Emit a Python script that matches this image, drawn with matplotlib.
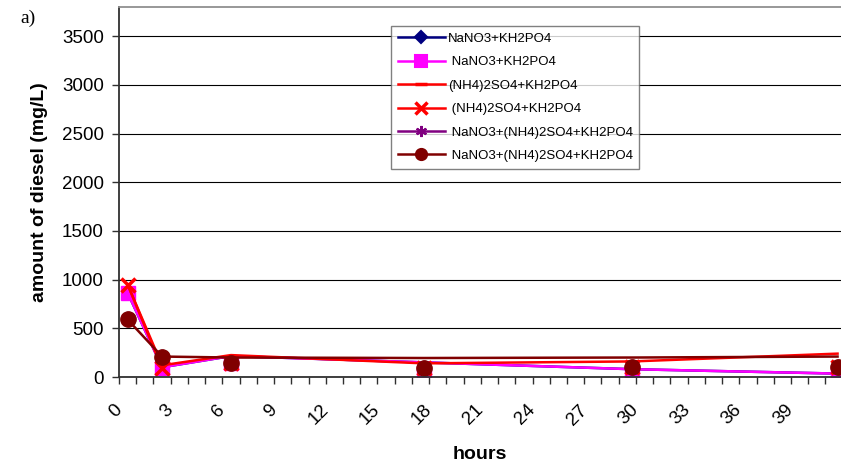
import matplotlib
matplotlib.use("Agg")
import matplotlib.pyplot as plt
from matplotlib.lines import Line2D

plt.rcParams["font.family"] = ["Liberation Sans", "DejaVu Sans"]

# sampling times (hours)
hours = [0.5, 2.5, 6.5, 17.7, 29.8, 41.7]

# NaNO3 + KH2PO4
nano3_line = [865, 100, 215, 150, 80, 35]
nano3_pts = [865, 95, 140, 40, 50, 20]
# (NH4)2SO4 + KH2PO4
nh4_line = [950, 120, 225, 140, 160, 240]
nh4_pts = [950, 90, 140, 90, 100, 100]
# NaNO3 + (NH4)2SO4 + KH2PO4
mix_line = [590, 210, 200, 195, 200, 210]
mix_pts = [600, 210, 140, 90, 100, 100]

labels = [
    "NaNO3+KH2PO4",
    " NaNO3+KH2PO4",
    "(NH4)2SO4+KH2PO4",
    " (NH4)2SO4+KH2PO4",
    " NaNO3+(NH4)2SO4+KH2PO4",
    " NaNO3+(NH4)2SO4+KH2PO4",
]
colors = ["#000080", "#FF00FF", "#FF0000", "#FF0000", "#800080", "#800000"]
markers = ["D", "s", "_", "x", (6, 2, 0), "o"]

fig = plt.figure(figsize=(8.41, 4.68), dpi=100)
ax = fig.add_axes([119 / 841, 1 - 377 / 468, 722 / 841, 370 / 468])

lw = 1.8
ax.plot(hours, nano3_line, color=colors[0], lw=lw, marker=markers[0], ms=6, markevery=[0, 1])
ax.plot(hours, nano3_line, color=colors[1], lw=lw)
ax.plot(hours, nano3_pts, color=colors[1], ls="none", marker="s", ms=10)
ax.plot(hours, nh4_line, color=colors[2], lw=lw)
ax.plot(hours, nh4_pts, color=colors[3], ls="none", marker="x", ms=10, mew=2.5)
ax.plot(hours[:2], nh4_pts[:2], color=colors[3], lw=lw)
ax.plot(hours, mix_pts, color=colors[4], ls="none", marker=markers[4], ms=11, mew=2)
ax.plot(hours, mix_line, color=colors[5], lw=lw)
ax.plot(hours, mix_pts, color=colors[5], ls="none", marker="o", ms=11)

ax.set_xlim(0, 41.9)
ax.set_ylim(0, 3800)
ax.set_yticks(range(0, 4000, 500))
ax.set_xticks(range(0, 42))
ax.set_xticklabels([str(h) if h % 3 == 0 else "" for h in range(0, 42)])
ax.grid(axis="y", color="black", lw=0.8)
ax.set_axisbelow(True)

for side in ["left", "bottom"]:
    ax.spines[side].set_color("#303030")
    ax.spines[side].set_linewidth(1.3)
ax.spines["top"].set_color("#909090")
ax.spines["top"].set_linewidth(1.3)
ax.spines["right"].set_visible(False)

ax.tick_params(axis="both", direction="out", length=5, width=1, color="#303030", labelsize=13.5)
ax.tick_params(axis="y", pad=6)
ax.tick_params(axis="x", pad=17)
for t in ax.get_xticklabels():
    t.set_rotation(45)
    t.set_rotation_mode("anchor")
    t.set_ha("right")
    t.set_va("center")

ax.set_ylabel("amount of diesel (mg/L)", fontsize=14, fontweight="bold", labelpad=10)
ax.set_xlabel("hours", fontsize=14, fontweight="bold", labelpad=13)

handles = []
for c, m, lab in zip(colors, markers, labels):
    ms = 6 if m == "D" else 8
    mew = 2.5 if m in ("x", "_") else 1.5
    handles.append(Line2D([], [], color=c, lw=lw, marker=m, ms=ms, mew=mew, label=lab))
fig.legend(handles=handles, loc="upper left", bbox_to_anchor=(391 / 841, 1 - 26 / 468),
           fontsize=9.5, handlelength=3.6, labelspacing=0.85, frameon=True, fancybox=False,
           edgecolor="#606060", borderpad=0.5, handletextpad=0.2, borderaxespad=0)

fig.text(20 / 841, 1 - 18 / 468, "a)", fontsize=14, family="Liberation Serif", va="center")

fig.savefig("out.png", dpi=100)
